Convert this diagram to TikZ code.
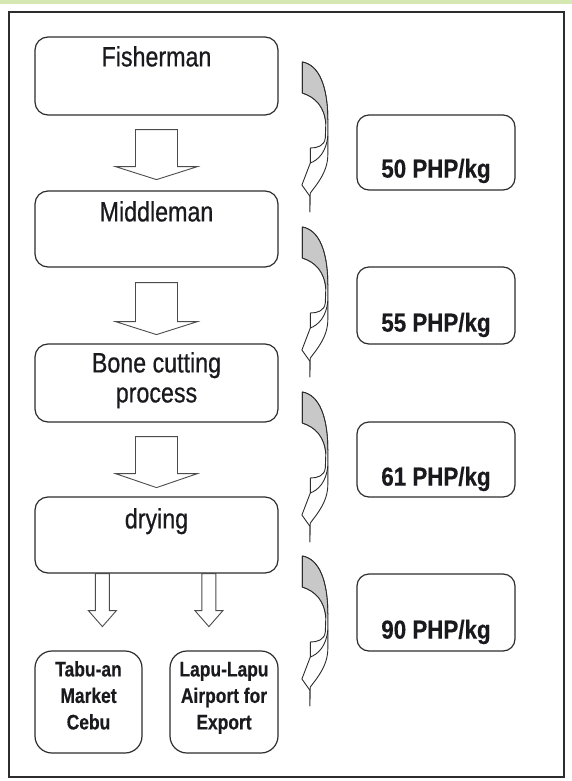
\documentclass[tikz,border=0pt]{standalone}
\usepackage{fontspec}
\setmainfont{Liberation Sans}
\newfontfamily\condreg{Liberation Sans}[FakeStretch=0.83,FakeBold=0.6]
\newfontfamily\condprice{Liberation Sans}[FakeStretch=0.86,FakeBold=0.4]
\newfontfamily\condout{Liberation Sans}[FakeStretch=0.83,FakeBold=0.4]
\usetikzlibrary{calc}
\definecolor{band}{RGB}{214,232,178}
\definecolor{ink}{RGB}{45,45,45}
\definecolor{txt}{RGB}{25,25,30}
\definecolor{arrgray}{RGB}{200,200,200}
\tikzset{
  stage/.style={draw=ink, line width=1.2bp, rounded corners=13bp, fill=white, inner sep=0pt},
  pricebox/.style={draw=ink, line width=1.2bp, rounded corners=12bp, fill=white, inner sep=0pt,
    minimum width=158bp},
  outlet/.style={draw=ink, line width=1.2bp, rounded corners=17bp, fill=white, inner sep=0pt,
    minimum height=102bp},
  lbl/.style={inner sep=0pt, anchor=base, text=txt, font=\condreg\fontsize{28bp}{32bp}\selectfont},
  pricelbl/.style={inner sep=0pt, anchor=base, text=txt, font=\condprice\fontsize{26bp}{30bp}\selectfont\bfseries},
  outlbl/.style={inner sep=0pt, anchor=base, text=txt, font=\condout\fontsize{21bp}{26bp}\selectfont\bfseries},
  blockline/.style={draw=ink!85, line width=0.9bp, fill=white, line join=miter},
  frameline/.style={draw=ink, line width=1.8bp},
  pics/blockdown/.style n args={4}{code={
    \draw[blockline] (-#1,0) -- (-#1,#3) -- (-#2,#3) -- (0,#4) -- (#2,#3) -- (#1,#3) -- (#1,0) -- cycle;
  }},
  pics/curvedarr/.style={code={
    \filldraw[fill=white, draw=ink, line width=0.9bp, line join=round]
      (0,0) .. controls (17,3) and (25.5,25) .. (25.5,58) -- (25.5,93)
      .. controls (25.5,110) and (14,123) .. (8,131) -- (7.6,150) -- (7.4,134)
      -- (-0.4,123) -- (8,101) -- (8,86)
      .. controls (15,86) and (22,84) .. (23,76) -- (23.5,62)
      .. controls (22.5,45) and (13,35) .. (0,31) -- cycle;
    \fill[arrgray]
      (0.5,0.6) .. controls (16.6,3.6) and (24.9,25) .. (24.9,58) -- (24,62)
      .. controls (22,45.5) and (12.6,35.6) .. (0.5,30.5) -- cycle;
    \draw[ink, line width=0.9bp, line join=round]
      (0,0) .. controls (17,3) and (25.5,25) .. (25.5,58);
    \draw[ink, line width=0.9bp, line join=round]
      (23.5,62) .. controls (22.5,45) and (13,35) .. (0,31) -- (0,0);
    \draw[ink, line width=0.9bp]
      (25.5,74) .. controls (24,90) and (16,98) .. (8,101);
  }}
}
\begin{document}
\begin{tikzpicture}[x=1bp,y=-1bp]
\useasboundingbox (0,0) rectangle (572,781);
\fill[white] (0,0) rectangle (572,781);
\fill[band] (0,0) rectangle (572,4.5);
\draw[frameline] (9,12) rectangle (564,777);

% stages
\node[stage, minimum width=243bp, minimum height=78bp] (f) at (156.5,76) {};
\node[stage, minimum width=243bp, minimum height=76bp] (m) at (156.5,229) {};
\node[stage, minimum width=243bp, minimum height=78bp] (b) at (156.5,383) {};
\node[stage, minimum width=243bp, minimum height=76bp] (d) at (156.5,535) {};
\node[outlet, minimum width=107bp] (t) at (88.5,702) {};
\node[outlet, minimum width=108bp] (l) at (224,702) {};

% price boxes
\node[pricebox, minimum height=75bp] (p1) at (436,152.5) {};
\node[pricebox, minimum height=77bp] (p2) at (436,305.5) {};
\node[pricebox, minimum height=75bp] (p3) at (436,459.5) {};
\node[pricebox, minimum height=77bp] (p4) at (436,612.5) {};

% labels
\node[lbl] (fT) at ($(f.north)+(0,30)$) {Fisherman};
\node[lbl] (mT) at ($(m.north)+(0,31)$) {Middleman};
\node[lbl] (bT1) at ($(b.north)+(0,29)$) {Bone cutting};
\node[lbl] (bT2) at ($(b.north)+(0,59)$) {process};
\node[lbl] (dT) at ($(d.north)+(0,32)$) {drying};

\node[pricelbl] (p1T) at ($(p1.south)+(0,-13)$) {50 PHP/kg};
\node[pricelbl] (p2T) at ($(p2.south)+(0,-13)$) {55 PHP/kg};
\node[pricelbl] (p3T) at ($(p3.south)+(0,-12)$) {61 PHP/kg};
\node[pricelbl] (p4T) at ($(p4.south)+(0,-13)$) {90 PHP/kg};

\node[outlbl] (tT1) at ($(t.north)+(0,26)$) {Tabu-an};
\node[outlbl] (tT2) at ($(t.north)+(0,52.5)$) {Market};
\node[outlbl] (tT3) at ($(t.north)+(0,79)$) {Cebu};
\node[outlbl] (lT1) at ($(l.north)+(0,26)$) {Lapu-Lapu};
\node[outlbl] (lT2) at ($(l.north)+(0,52.5)$) {Airport for};
\node[outlbl] (lT3) at ($(l.north)+(0,79)$) {Export};

% block arrows between stages
\pic at ($(f.south)+(0,14)$) {blockdown={21}{41}{37}{50}};
\pic at ($(m.south)+(0,15)$) {blockdown={21}{41}{39}{52}};
\pic at ($(b.south)+(0,14)$) {blockdown={21}{41}{37}{51}};
\pic at ($(d.south west)+(68,0)$) {blockdown={7}{14}{37}{53}};
\pic at ($(d.south west)+(174.5,0)$) {blockdown={7}{14}{37}{53}};

% curved price arrows
\pic at ($(f.east)+(23.7,-14)$) {curvedarr};
\pic at ($(m.east)+(23.7,-2)$) {curvedarr};
\pic at ($(b.east)+(23.7,9)$) {curvedarr};
\pic at ($(d.east)+(23.7,21)$) {curvedarr};
\end{tikzpicture}
\end{document}
